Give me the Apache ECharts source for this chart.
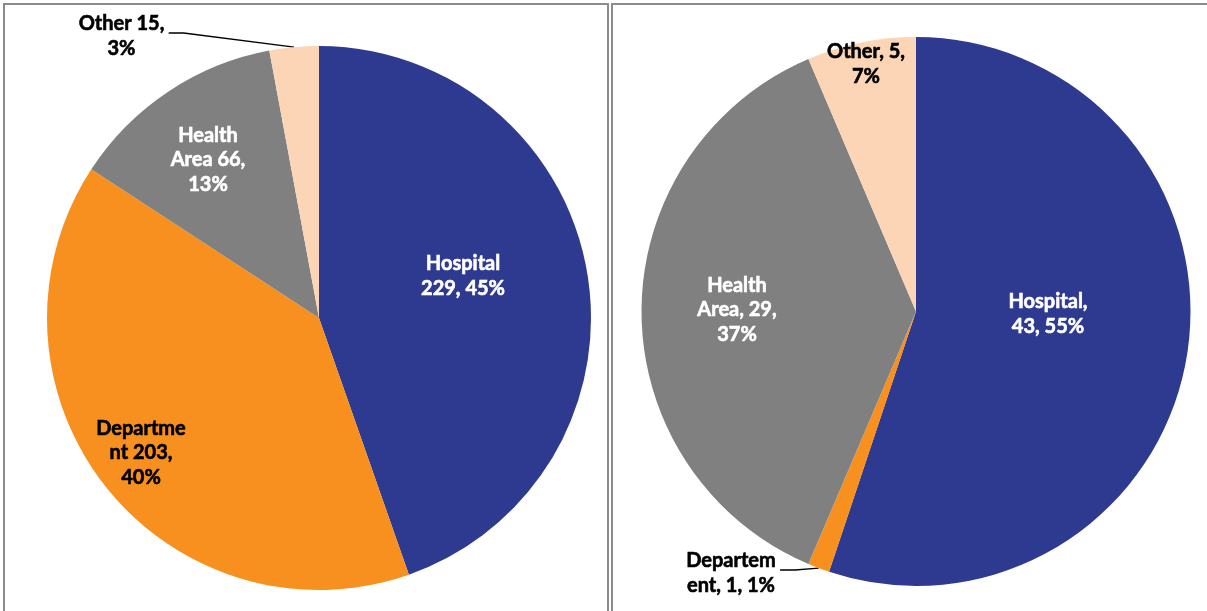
<!DOCTYPE html>
<html>
<head>
<meta charset="utf-8">
<title>Requests by source</title>
<script src="https://cdn.jsdelivr.net/npm/echarts@6/dist/echarts.min.js"></script>
<style>
  html, body { margin: 0; padding: 0; background: #ffffff; }
  #chart { width: 1207px; height: 611px; }
</style>
</head>
<body>
<div id="chart"></div>
<script>
// Left pie
const leftNames = ['Hospital', 'Department', 'Health Area', 'Other'];
const leftValues = [229, 203, 66, 15];
const leftPercents = [45, 40, 13, 3];
const leftLabelFormats = ['Hospital\n{v}, {p}%', 'Departme\nnt {v},\n{p}%', 'Health\nArea {v},\n{p}%', 'Other {v},\n{p}%'];

// Right pie
const rightNames = ['Hospital', 'Departement', 'Health Area', 'Other'];
const rightValues = [43, 1, 29, 5];
const rightPercents = [55, 1, 37, 7];
const rightLabelFormats = ['Hospital,\n{v}, {p}%', 'Departem\nent, {v}, {p}%', 'Health\nArea, {v},\n{p}%', 'Other, {v},\n{p}%'];

const sliceColors = ['#2E3A8F', '#F7901E', '#808080', '#FBD5B5'];
const labelColors = ['#ffffff', '#000000', '#ffffff', '#000000'];

// Where each label sits (label block centre), and which ones sit outside with a leader line
const labelSpots = [
  [[463, 276], [141, 453], [208, 160], [121.5, 36]],
  [[1048, 314], [731, 573], [737, 310], [866, 64]]
];
const outsideLabels = [[3], [1]];

const percents = [leftPercents, rightPercents];
const formats = [leftLabelFormats, rightLabelFormats];

function buildData(names, values, outside) {
  return names.map((name, i) => {
    const isOut = outside.indexOf(i) >= 0;
    return {
      name: name,
      value: values[i],
      itemStyle: { color: sliceColors[i] },
      label: {
        position: isOut ? 'outside' : 'inside',
        color: labelColors[i],
        textBorderColor: labelColors[i],
        textBorderWidth: 0.6
      },
      labelLine: { show: isOut }
    };
  });
}

const labelStyle = {
  show: true,
  fontFamily: 'Lato, "Open Sans", sans-serif',
  fontWeight: 'bold',
  fontSize: 20,
  lineHeight: 24.5,
  align: 'center',
  formatter: (p) => formats[p.seriesIndex][p.dataIndex]
    .replace('{v}', p.value)
    .replace('{p}', percents[p.seriesIndex][p.dataIndex])
};

function placeLabel(params) {
  const spot = labelSpots[params.seriesIndex][params.dataIndex];
  const out = {
    x: spot[0],
    y: spot[1],
    align: 'center',
    verticalAlign: 'middle'
  };
  if (outsideLabels[params.seriesIndex].indexOf(params.dataIndex) >= 0 && params.labelLinePoints) {
    const edge = params.labelLinePoints[0];
    const w = params.labelRect.width;
    const endX = spot[0] + w / 2 + 4;
    const endY = spot[1] - 3;
    out.labelLinePoints = [
      [edge[0], edge[1]],
      [endX + 15, endY],
      [endX, endY]
    ];
  }
  return out;
}

function pieSeries(center, radius, data) {
  return {
    type: 'pie',
    center: center,
    radius: radius,
    startAngle: 90,
    clockwise: true,
    avoidLabelOverlap: false,
    silent: true,
    emphasis: { disabled: true },
    itemStyle: { borderWidth: 0 },
    label: labelStyle,
    labelLine: {
      show: false,
      lineStyle: { color: '#000000', width: 1.3 }
    },
    labelLayout: placeLabel,
    data: data
  };
}

const chart = echarts.init(document.getElementById('chart'), null, { renderer: 'canvas' });
chart.setOption({
  animation: false,
  backgroundColor: '#ffffff',
  graphic: [
    {
      type: 'rect',
      shape: { x: 4, y: 4, width: 604, height: 640 },
      style: { fill: 'none', stroke: '#8c8c8c', lineWidth: 2 }
    },
    {
      type: 'rect',
      shape: { x: 612, y: 4, width: 640, height: 640 },
      style: { fill: 'none', stroke: '#8c8c8c', lineWidth: 2 }
    }
  ],
  series: [
    pieSeries([319, 318], 272, buildData(leftNames, leftValues, outsideLabels[0])),
    pieSeries([916, 311.5], 274.5, buildData(rightNames, rightValues, outsideLabels[1]))
  ]
});
</script>
</body>
</html>
